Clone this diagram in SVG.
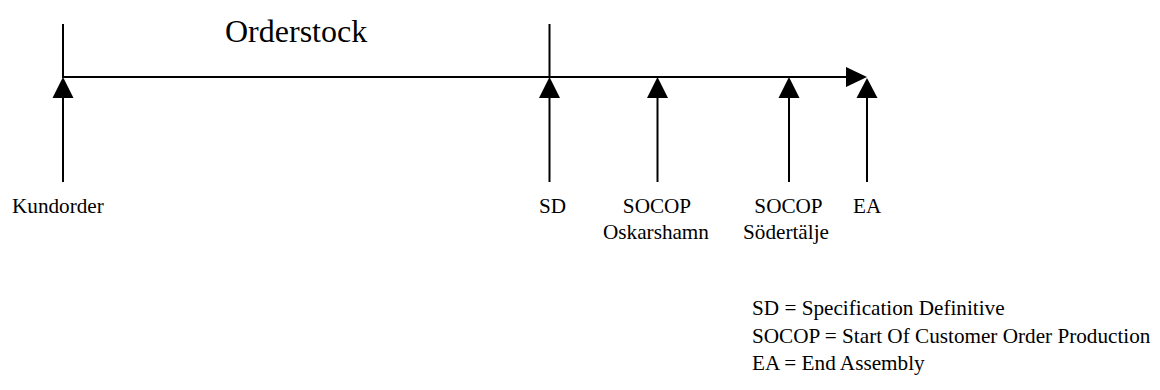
<svg xmlns="http://www.w3.org/2000/svg" width="1160" height="390" viewBox="0 0 1160 390">
  <style>
    .ln { stroke: #000; stroke-width: 2; fill: none; }
    .head { fill: #000; stroke: none; }
    text { font-family: "Liberation Serif", "Times New Roman", serif; font-size: 21.2px; fill: #000; }
    .title { font-size: 32px; }
    .mid { text-anchor: middle; }
  </style>
  <rect width="1160" height="390" fill="#fff"/>

  <!-- timeline, period ticks and milestone arrows -->
  <g id="connectors">
    <line class="ln" x1="63" y1="24" x2="63" y2="77"/>
    <line class="ln" x1="549.5" y1="24" x2="549.5" y2="77"/>
    <line class="ln" x1="62" y1="77" x2="848" y2="77"/>
    <polygon class="head" points="846,67 867,77 846,87"/>

    <line class="ln" x1="63" y1="182" x2="63" y2="95"/>
    <polygon class="head" points="63,77 73.5,98 52.5,98"/>

    <line class="ln" x1="549.5" y1="182" x2="549.5" y2="95"/>
    <polygon class="head" points="549.5,77 560,98 539,98"/>

    <line class="ln" x1="657.5" y1="182" x2="657.5" y2="95"/>
    <polygon class="head" points="657.5,77 668,98 647,98"/>

    <line class="ln" x1="789" y1="182" x2="789" y2="95"/>
    <polygon class="head" points="789,77 799.5,98 778.5,98"/>

    <line class="ln" x1="867" y1="182" x2="867" y2="95"/>
    <polygon class="head" points="867,78 877.5,98 856.5,98"/>
  </g>

  <g id="orderstock">
    <text class="title" x="225" y="42">Orderstock</text>
  </g>

  <g id="kundorder">
    <text x="12" y="213">Kundorder</text>
  </g>

  <g id="sd">
    <text x="539" y="213">SD</text>
  </g>

  <g id="socop-oskarshamn">
    <text class="mid" x="657" y="213">SOCOP</text>
    <text class="mid" x="656" y="239">Oskarshamn</text>
  </g>

  <g id="socop-sodertalje">
    <text class="mid" x="788.5" y="213">SOCOP</text>
    <text class="mid" x="786" y="239">Södertälje</text>
  </g>

  <g id="ea">
    <text x="853" y="213">EA</text>
  </g>

  <g id="legend">
    <text x="752" y="315">SD = Specification Definitive</text>
    <text x="752" y="343">SOCOP = Start Of Customer Order Production</text>
    <text x="752" y="370">EA = End Assembly</text>
  </g>
</svg>
